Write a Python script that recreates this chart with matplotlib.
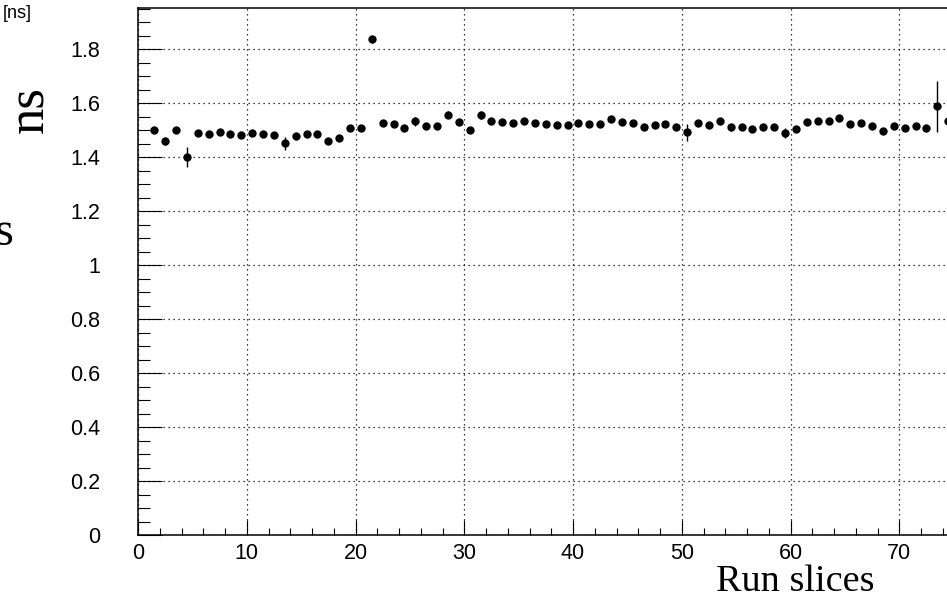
import matplotlib
matplotlib.use("Agg")
import matplotlib.pyplot as plt
from matplotlib.ticker import MultipleLocator, FormatStrFormatter

# time offset per run slice, one value per slice (bin centres at n + 0.5)
slices = [n + 0.5 for n in range(1, 75)]
offset_ns = [
    1.501, 1.460, 1.501, 1.400, 1.490, 1.484, 1.494, 1.486, 1.481, 1.490,
    1.485, 1.483, 1.451, 1.479, 1.486, 1.485, 1.460, 1.470, 1.509, 1.507,
    1.836, 1.527, 1.521, 1.509, 1.532, 1.515, 1.516, 1.557, 1.530, 1.501,
    1.556, 1.532, 1.530, 1.527, 1.532, 1.527, 1.521, 1.517, 1.519, 1.525,
    1.523, 1.521, 1.540, 1.528, 1.526, 1.512, 1.519, 1.521, 1.512, 1.491,
    1.526, 1.520, 1.533, 1.510, 1.512, 1.505, 1.512, 1.512, 1.489, 1.505,
    1.531, 1.533, 1.535, 1.543, 1.522, 1.526, 1.514, 1.498, 1.514, 1.506,
    1.514, 1.506, 1.588, 1.533,
]
offset_err = [
    0.006, 0.016, 0.006, 0.037, 0.006, 0.006, 0.006, 0.006, 0.006, 0.006,
    0.006, 0.006, 0.025, 0.006, 0.006, 0.006, 0.006, 0.006, 0.006, 0.006,
    0.012, 0.006, 0.006, 0.006, 0.016, 0.006, 0.006, 0.013, 0.006, 0.012,
    0.016, 0.006, 0.006, 0.006, 0.006, 0.006, 0.006, 0.006, 0.006, 0.006,
    0.006, 0.006, 0.006, 0.006, 0.006, 0.006, 0.006, 0.006, 0.006, 0.032,
    0.006, 0.006, 0.012, 0.013, 0.006, 0.006, 0.006, 0.006, 0.018, 0.006,
    0.006, 0.006, 0.006, 0.008, 0.006, 0.006, 0.006, 0.006, 0.006, 0.006,
    0.006, 0.006, 0.095, 0.006,
]
x_ticks = [0, 10, 20, 30, 40, 50, 60, 70]

plt.rcParams["font.family"] = ["Liberation Sans", "DejaVu Sans"]

fig = plt.figure(figsize=(9.47, 6.0), dpi=100)
# frame runs past the right edge of the canvas
ax = fig.add_axes([138 / 947, 65 / 600, 870 / 947, 527 / 600])

ax.errorbar(slices, offset_ns, yerr=offset_err, fmt="o", color="black",
            ms=5, elinewidth=1, capsize=0)

ax.set_xlim(0, 80)
ax.set_ylim(0, 1.952)

ax.set_xticks(x_ticks)
ax.xaxis.set_minor_locator(MultipleLocator(2))
ax.yaxis.set_major_locator(MultipleLocator(0.2))
ax.yaxis.set_minor_locator(MultipleLocator(0.05))
ax.yaxis.set_major_formatter(FormatStrFormatter("%g"))

ax.grid(which="major", color="black", linestyle=(0, (1, 3)), linewidth=0.9)

ax.tick_params(axis="both", which="both", direction="in", width=0.8,
               labelsize=15.5, top=False, right=False)
ax.tick_params(axis="y", which="major", length=17, pad=27)
ax.tick_params(axis="y", which="minor", length=8.6)
ax.tick_params(axis="x", which="major", length=10.8, pad=6)
ax.tick_params(axis="x", which="minor", length=5)

for side in ("left", "bottom", "top", "right"):
    ax.spines[side].set_linewidth(1.1)

serif = ["Liberation Serif", "DejaVu Serif"]
fig.text(716 / 947, 9 / 600, "Run slices", family=serif, fontsize=27.5,
         ha="left", va="baseline")
fig.text(43 / 947, 1 - 133 / 600, "ns", family=serif, fontsize=38,
         rotation=90, rotation_mode="anchor", ha="left", va="baseline")
fig.text(14 / 947, 1 - 245 / 600, "s", family=serif, fontsize=35,
         ha="right", va="baseline")
fig.text(3 / 947, 1 - 5 / 600, "[ns]", fontsize=13, ha="left", va="top")

fig.savefig("out.png", dpi=100)
